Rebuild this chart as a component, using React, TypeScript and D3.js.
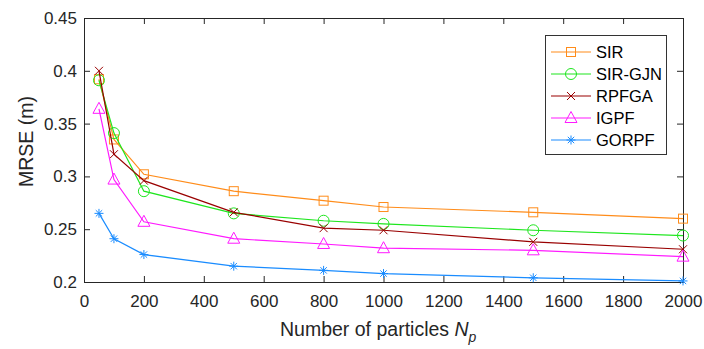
import React, { useRef, useEffect } from "react";
import * as d3 from "d3";

const particles = [50, 100, 200, 500, 800, 1000, 1500, 2000];
const sir = [0.392, 0.335, 0.302, 0.286, 0.277, 0.271, 0.266, 0.26];
const sirGjn = [0.391, 0.341, 0.286, 0.265, 0.258, 0.255, 0.249, 0.244];
const rpfga = [0.4, 0.321, 0.296, 0.266, 0.251, 0.249, 0.238, 0.231];
const igpf = [0.364, 0.297, 0.257, 0.241, 0.236, 0.232, 0.23, 0.224];
const gorpf = [0.265, 0.241, 0.226, 0.215, 0.211, 0.208, 0.204, 0.201];

const xTicks = [0, 200, 400, 600, 800, 1000, 1200, 1400, 1600, 1800, 2000];
const yTicks = [0.2, 0.25, 0.3, 0.35, 0.4, 0.45];

const series = [
  { name: "SIR", values: sir, color: "#ff8c1a", marker: "square" },
  { name: "SIR-GJN", values: sirGjn, color: "#1ee61e", marker: "circle" },
  { name: "RPFGA", values: rpfga, color: "#990000", marker: "x" },
  { name: "IGPF", values: igpf, color: "#ff1aff", marker: "triangle" },
  { name: "GORPF", values: gorpf, color: "#1a8cff", marker: "star" },
];

const W = 704;
const H = 349;
const margin = { top: 18, right: 21, bottom: 67, left: 84 };
const FONT = "'Liberation Sans', Arial, sans-serif";

function drawMarker(g, kind, x, y, color) {
  if (kind === "square") {
    g.append("rect").attr("x", x - 4.5).attr("y", y - 4.5).attr("width", 9).attr("height", 9)
      .attr("fill", "none").attr("stroke", color);
  } else if (kind === "circle") {
    g.append("circle").attr("cx", x).attr("cy", y).attr("r", 5.5)
      .attr("fill", "none").attr("stroke", color);
  } else if (kind === "x") {
    const s = 4;
    g.append("path").attr("d", `M${x - s},${y - s}L${x + s},${y + s}M${x - s},${y + s}L${x + s},${y - s}`)
      .attr("stroke", color).attr("fill", "none");
  } else if (kind === "triangle") {
    g.append("path").attr("d", `M${x},${y - 6.5}L${x + 6},${y + 4.5}L${x - 6},${y + 4.5}Z`)
      .attr("fill", "none").attr("stroke", color);
  } else {
    const s = 4.5;
    const d = 3.2;
    g.append("path")
      .attr("d", `M${x - s},${y}L${x + s},${y}M${x},${y - s}L${x},${y + s}M${x - d},${y - d}L${x + d},${y + d}M${x - d},${y + d}L${x + d},${y - d}`)
      .attr("stroke", color).attr("fill", "none");
  }
}

const Chart = () => {
  const ref = useRef(null);

  useEffect(() => {
    const svg = d3.select(ref.current);
    svg.selectAll("*").remove();

    const innerW = W - margin.left - margin.right;
    const innerH = H - margin.top - margin.bottom;

    const x = d3.scaleLinear().domain([0, 2000]).range([margin.left, margin.left + innerW]);
    const y = d3.scaleLinear().domain([0.2, 0.45]).range([margin.top + innerH, margin.top]);

    svg.append("rect").attr("width", W).attr("height", H).attr("fill", "#fff");

    // axes, ticks pointing inward like matlab
    const fmt = (d) => String(+(+d).toFixed(2));
    const bottom = svg.append("g").attr("transform", `translate(0,${y(0.2)})`)
      .call(d3.axisBottom(x).tickValues(xTicks).tickFormat(d3.format("d")).tickSizeInner(-6).tickSizeOuter(0).tickPadding(13));
    const left = svg.append("g").attr("transform", `translate(${x(0)},0)`)
      .call(d3.axisLeft(y).tickValues(yTicks).tickFormat(fmt).tickSizeInner(-6).tickSizeOuter(0).tickPadding(7));
    const top = svg.append("g").attr("transform", `translate(0,${y(0.45)})`)
      .call(d3.axisTop(x).tickValues(xTicks).tickSizeInner(-6).tickSizeOuter(0).tickFormat(() => ""));
    const right = svg.append("g").attr("transform", `translate(${x(2000)},0)`)
      .call(d3.axisRight(y).tickValues(yTicks).tickSizeInner(-6).tickSizeOuter(0).tickFormat(() => ""));

    [bottom, left, top, right].forEach((a) => {
      a.selectAll("path, line").attr("stroke", "#262626");
      a.selectAll("text").attr("fill", "#262626").style("font-family", FONT).style("font-size", "17px");
    });

    const line = d3.line().x((d) => x(d[0])).y((d) => y(d[1]));

    series.forEach((s) => {
      const pts = particles.map((p, i) => [p, s.values[i]]);
      svg.append("path").datum(pts).attr("d", line)
        .attr("fill", "none").attr("stroke", s.color).attr("stroke-width", 1.2);
      const mg = svg.append("g");
      pts.forEach((p) => drawMarker(mg, s.marker, x(p[0]), y(p[1]), s.color));
    });

    // legend
    const lg = svg.append("g");
    lg.append("rect").attr("x", 545.5).attr("y", 35.5).attr("width", 121).attr("height", 119)
      .attr("fill", "#fff").attr("stroke", "#333");
    series.forEach((s, i) => {
      const yy = 52 + i * 22;
      lg.append("line").attr("x1", 551).attr("x2", 591).attr("y1", yy).attr("y2", yy)
        .attr("stroke", s.color).attr("stroke-width", 1.2);
      drawMarker(lg, s.marker, 571, yy, s.color);
      lg.append("text").attr("x", 596).attr("y", yy + 6).text(s.name)
        .style("font-family", FONT).style("font-size", "16.5px").attr("fill", "#000");
    });

    // axis titles
    svg.append("text").attr("transform", `translate(33,141.5) rotate(-90)`)
      .attr("text-anchor", "middle").text("MRSE (m)")
      .style("font-family", FONT).style("font-size", "19.5px").attr("fill", "#262626");

    const xl = svg.append("text").attr("x", 280).attr("y", 336)
      .style("font-family", FONT).style("font-size", "19.5px").attr("fill", "#262626");
    xl.append("tspan").text("Number of particles ");
    xl.append("tspan").text("N").style("font-style", "italic");
    xl.append("tspan").text("p").style("font-style", "italic").style("font-size", "14px").attr("dy", 6);
  }, []);

  return <svg ref={ref} width={W} height={H} style={{ position: "absolute", left: 0, top: 0 }} />;
};

export default function App() {
  return <Chart />;
}
